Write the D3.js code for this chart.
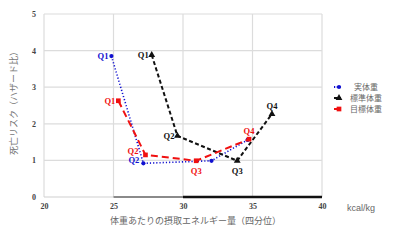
<!DOCTYPE html>
<html>
<head>
<meta charset="utf-8">
<script src="https://cdn.jsdelivr.net/npm/d3@7"></script>
<style>
  body { margin: 0; background: #fff; }
  svg { display: block; }
</style>
</head>
<body>
<svg width="400" height="243"></svg>
<script>
var svg = d3.select("svg"),
    width = 400, height = 243;

// quartile labels
var quartiles = ["Q1", "Q2", "Q3", "Q4"];

// kcal/kg (x) and hazard ratio (y) for each series
var jitsuX = [24.85, 27.15, 32.05, 34.65],
    jitsuY = [3.85, 0.92, 0.99, 1.56];
var hyojunX = [27.75, 29.6, 33.9, 36.4],
    hyojunY = [3.88, 1.67, 0.99, 2.27];
var mokuhyoX = [25.35, 27.3, 30.95, 34.75],
    mokuhyoY = [2.63, 1.15, 0.99, 1.58];

var seriesNames = ["実体重", "標準体重", "目標体重"];
var xTicks = [20, 25, 30, 35, 40];
var yTicks = [0, 1, 2, 3, 4, 5];
// coloured bands on the x axis line
var axisBands = [[20, 25], [25, 30], [30, 40]];

var margin = { left: 44, right: 78, top: 14, bottom: 46 };

var xScale = d3.scaleLinear().domain([20, 40]).range([margin.left, width - margin.right]);
var yScale = d3.scaleLinear().domain([0, 5]).range([height - margin.bottom, margin.top]);

var serif = "'Liberation Serif', 'DejaVu Serif', serif",
    jp = "'Noto Sans CJK JP', sans-serif";

/***********************************************************************************************/
// grid

var grid = svg.append("g");
grid.selectAll(".hgrid").data(yTicks.slice(1)).enter().append("line")
  .attr("x1", xScale(20)).attr("x2", xScale(40))
  .attr("y1", d => yScale(d)).attr("y2", d => yScale(d))
  .style("stroke", "#dcdcdc").style("stroke-width", 1.2);
grid.selectAll(".vgrid").data(xTicks).enter().append("line")
  .attr("x1", d => xScale(d)).attr("x2", d => xScale(d))
  .attr("y1", yScale(0)).attr("y2", yScale(5))
  .style("stroke", "#dcdcdc").style("stroke-width", 1.2);

// x axis line, in three bands
var bandStyle = [{ c: "#d0d0d0", w: 1.2 }, { c: "#8a8a8a", w: 2 }, { c: "#111", w: 2.4 }];
svg.selectAll(".band").data(axisBands).enter().append("line")
  .attr("x1", d => xScale(d[0])).attr("x2", d => xScale(d[1]))
  .attr("y1", yScale(0)).attr("y2", yScale(0))
  .style("stroke", (d, i) => bandStyle[i].c).style("stroke-width", (d, i) => bandStyle[i].w);

// tick labels
var xAxis = svg.append("g").attr("transform", "translate(0," + (yScale(0) + 3) + ")")
  .call(d3.axisBottom(xScale).tickValues(xTicks).tickFormat(d3.format("d")).tickSize(0).tickPadding(3));
xAxis.select(".domain").remove();
xAxis.selectAll("text").style("font-family", serif).style("font-size", "8px").style("font-weight", "bold").style("fill", "#444");

var yAxis = svg.append("g").attr("transform", "translate(" + (xScale(20) - 5) + ",0)")
  .call(d3.axisLeft(yScale).tickValues(yTicks).tickFormat(d3.format("d")).tickSize(0).tickPadding(3));
yAxis.select(".domain").remove();
yAxis.selectAll("text").style("font-family", serif).style("font-size", "8px").style("font-weight", "bold").style("fill", "#444");

// axis titles
svg.append("text").attr("x", 110).attr("y", 224)
  .style("font-family", jp).style("font-size", "9px").style("fill", "#666")
  .text("体重あたりの摂取エネルギー量（四分位）");
svg.append("text").attr("x", 347).attr("y", 211)
  .style("font-family", "'Liberation Sans', sans-serif").style("font-size", "9px").style("fill", "#666")
  .text("kcal/kg");
svg.append("text").attr("transform", "translate(17,101) rotate(-90)")
  .attr("text-anchor", "middle")
  .style("font-family", jp).style("font-size", "9px").style("fill", "#777")
  .text("死亡リスク（ハザード比）");

/***********************************************************************************************/
// series

var series = [
  { name: seriesNames[0], xs: jitsuX, ys: jitsuY, color: "#1010d0", dash: "1.2,2", w: 1.6, sym: d3.symbolCircle, size: 14 },
  { name: seriesNames[1], xs: hyojunX, ys: hyojunY, color: "#111", dash: "4,2.5", w: 2, sym: d3.symbolTriangle, size: 20 },
  { name: seriesNames[2], xs: mokuhyoX, ys: mokuhyoY, color: "#f01010", dash: "7,4", w: 2, sym: d3.symbolSquare, size: 22 }
];

var line = d3.line().x(d => xScale(d[0])).y(d => yScale(d[1]));

series.forEach(s => {
  var pts = s.xs.map((x, i) => [x, s.ys[i]]);
  svg.append("path").datum(pts).attr("d", line)
    .style("fill", "none").style("stroke", s.color)
    .style("stroke-width", s.w).style("stroke-dasharray", s.dash);
  svg.selectAll(null).data(pts).enter().append("path")
    .attr("transform", d => "translate(" + xScale(d[0]) + "," + yScale(d[1]) + ")")
    .attr("d", d3.symbol().type(s.sym).size(s.size))
    .style("fill", s.color);
});

// quartile labels: offsets per series [dx, dy, anchor]
var labelPos = [
  [[-3, 3, "end"], [-4, 0, "end"], null, null],
  [[-3, 3, "end"], [-3, 3, "end"], [0, 13, "middle"], [0, -5, "middle"]],
  [[-3, 3, "end"], [-7, -0.5, "end"], [0, 13, "middle"], [0, -5, "middle"]]
];
series.forEach((s, si) => {
  s.xs.forEach((x, i) => {
    var p = labelPos[si][i];
    if (!p) return;
    svg.append("text")
      .attr("x", xScale(x) + p[0]).attr("y", yScale(s.ys[i]) + p[1])
      .attr("text-anchor", p[2])
      .style("font-family", serif).style("font-size", "8.5px").style("font-weight", "bold")
      .style("fill", s.color)
      .text(quartiles[i]);
  });
});

/***********************************************************************************************/
// legend

var legend = svg.append("g").attr("transform", "translate(334,87)");
series.forEach((s, i) => {
  var g = legend.append("g").attr("transform", "translate(0," + (i * 11) + ")");
  g.append("line").attr("x1", 0).attr("x2", 7).attr("y1", 0).attr("y2", 0)
    .style("stroke", s.color).style("stroke-width", 2).style("stroke-dasharray", i == 0 ? "1.2,1.5" : null);
  g.append("path").attr("transform", "translate(5,0)")
    .attr("d", d3.symbol().type(s.sym).size(s.size)).style("fill", s.color);
  g.append("text").attr("x", 32).attr("y", 3).attr("text-anchor", "middle")
    .style("font-family", jp).style("font-size", "8px").style("fill", "#666")
    .text(s.name);
});
</script>
</body>
</html>
